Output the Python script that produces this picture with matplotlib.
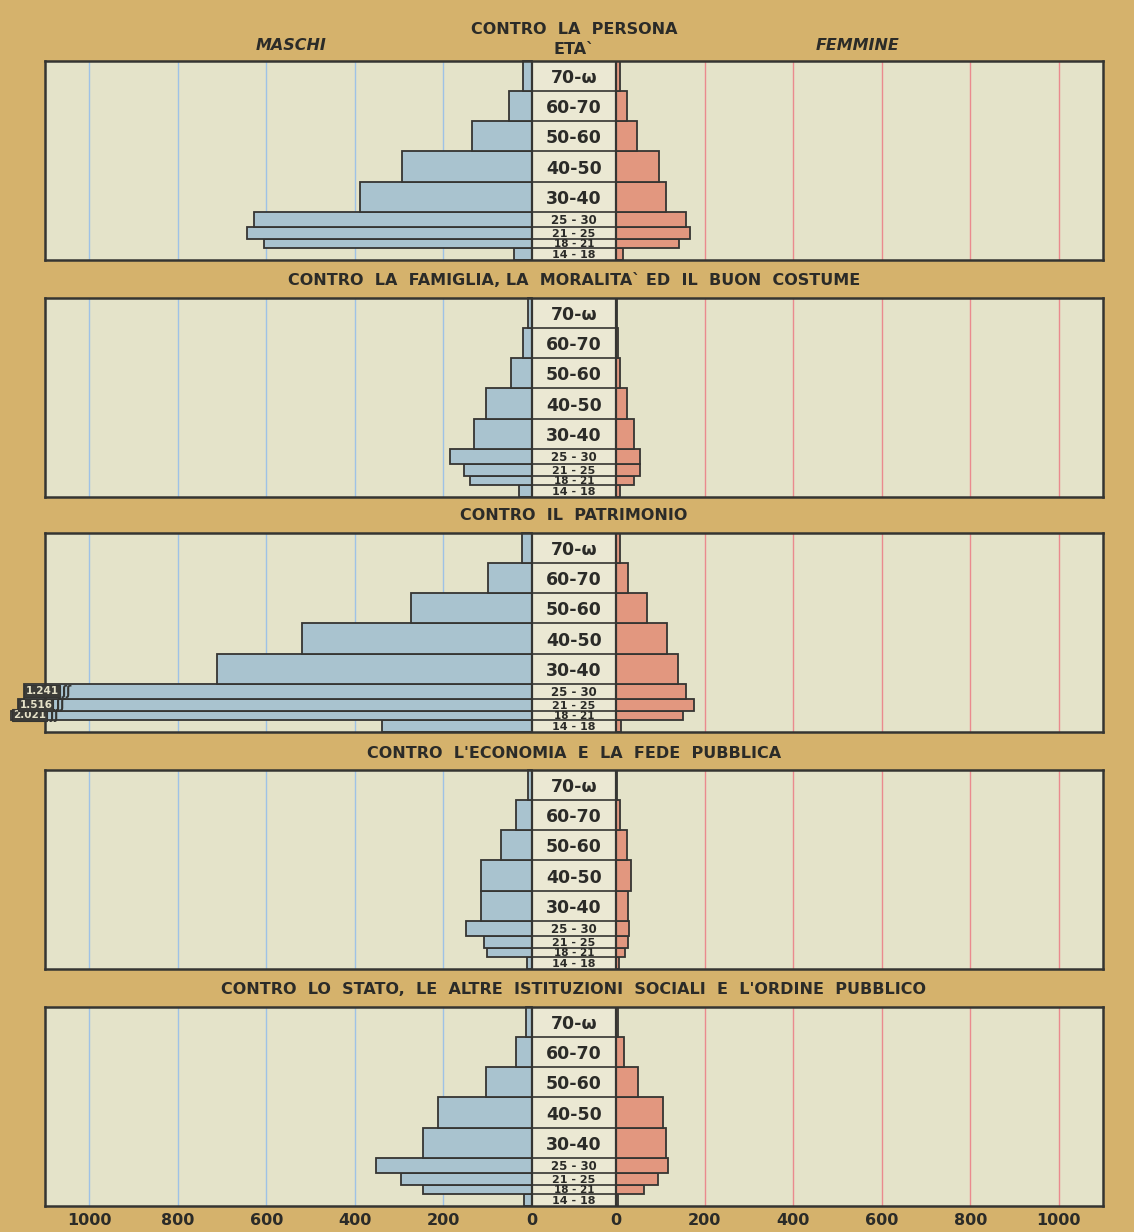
import matplotlib
matplotlib.use("Agg")
import matplotlib.pyplot as plt

# age classes, youngest first (70-ω drawn as a 10-year class)
AGE_EDGES = [14, 18, 21, 25, 30, 40, 50, 60, 70, 80]
AGE_LABELS = ["14-18", "18-21", "21-25", "25-30", "30-40",
              "40-50", "50-60", "60-70", "70-ω"]

TITLES = [
    "CONTRO  LA  PERSONA",
    "CONTRO  LA  FAMIGLIA, LA  MORALITA` ED  IL  BUON  COSTUME",
    "CONTRO  IL  PATRIMONIO",
    "CONTRO  L'ECONOMIA  E  LA  FEDE  PUBBLICA",
    "CONTRO  LO  STATO,  LE  ALTRE  ISTITUZIONI  SOCIALI  E  L'ORDINE  PUBBLICO",
]

MALE_PERSONA = [41, 606, 643, 628, 388, 293, 135, 52, 20]
FEMALE_PERSONA = [16, 143, 167, 157, 113, 97, 48, 24, 9]
MALE_FAMIGLIA = [30, 139, 153, 185, 132, 104, 47, 20, 8]
FEMALE_FAMIGLIA = [10, 41, 53, 55, 41, 24, 9, 5, 2]
MALE_PATRIMONIO = [339, 2021, 1516, 1241, 711, 520, 273, 99, 23]
FEMALE_PATRIMONIO = [12, 152, 175, 159, 140, 115, 70, 27, 10]
MALE_ECONOMIA = [11, 102, 108, 149, 115, 115, 70, 36, 8]
FEMALE_ECONOMIA = [7, 20, 26, 30, 28, 34, 24, 9, 2]
MALE_STATO = [17, 246, 295, 352, 246, 212, 103, 37, 13]
FEMALE_STATO = [4, 63, 94, 117, 113, 105, 49, 17, 4]

MALES = [MALE_PERSONA, MALE_FAMIGLIA, MALE_PATRIMONIO, MALE_ECONOMIA, MALE_STATO]
FEMALES = [FEMALE_PERSONA, FEMALE_FAMIGLIA, FEMALE_PATRIMONIO,
           FEMALE_ECONOMIA, FEMALE_STATO]

TICKS = [0, 200, 400, 600, 800, 1000]

BG = "#d5b26c"
PANEL = "#e4e3c9"
COLUMN = "#ebe8d3"
MALE_C = "#a9c3cf"
FEMALE_C = "#e2977f"
EDGE = "#353532"
BLUE = "#9ec2e6"
RED = "#ea8a8e"
INK = "#2b2b28"

GAP = 95       # half width of the age column, in count units
XMAX = 1100    # longest bar that fits inside the frame
BREAK = 1148   # drawn length of a bar that does not fit

W, H = 1134, 1232
TOPS = [61, 298, 533, 770, 1007]
PH = 199
LEFT, PW = 45, 1058

# label size by class width in years
LABEL_SIZE = {3: 7.5, 4: 8.0, 5: 8.5}

plt.rcParams["font.family"] = ["DejaVu Sans"]
fig = plt.figure(figsize=(W / 100, H / 100), dpi=100)
fig.patch.set_facecolor(BG)

bottoms = AGE_EDGES[:-1]
heights = [b - a for a, b in zip(AGE_EDGES[:-1], AGE_EDGES[1:])]

for i, (title, males, females) in enumerate(zip(TITLES, MALES, FEMALES)):
    ax = fig.add_axes([LEFT / W, 1 - (TOPS[i] + PH) / H, PW / W, PH / H])
    ax.set_facecolor(PANEL)
    ax.set_xlim(-GAP - XMAX, GAP + XMAX)
    ax.set_ylim(AGE_EDGES[0], AGE_EDGES[-1])

    ax.axvspan(-GAP, GAP, color=COLUMN, zorder=0)
    for v in TICKS[1:]:
        ax.axvline(-GAP - v, color=BLUE, lw=1.0, zorder=0.5)
        ax.axvline(GAP + v, color=RED, lw=1.0, zorder=0.5)

    # bars that run off the frame are cut and staggered outward
    shown = list(males)
    broken = [k for k, v in enumerate(males) if v > XMAX]
    for n, k in enumerate(reversed(broken)):
        shown[k] = BREAK + 14 * n
    ax.barh(bottoms, [-v for v in shown], left=-GAP, height=heights,
            align="edge", color=MALE_C, edgecolor=EDGE, lw=1.3,
            zorder=3, clip_on=False)
    ax.barh(bottoms, females, left=GAP, height=heights, align="edge",
            color=FEMALE_C, edgecolor=EDGE, lw=1.3, zorder=3)

    for k in broken:
        y = bottoms[k] + heights[k] / 2
        x = -GAP - shown[k]
        txt = f"{males[k] // 1000}.{males[k] % 1000:03d}"
        ax.text(x + 4, y, txt, ha="left", va="center", fontsize=7.5,
                fontweight="bold", color="#e6e2c8", zorder=5, clip_on=False,
                bbox=dict(boxstyle="square,pad=0.1", fc="#3c3c38",
                          ec=EDGE, lw=0.8))
        ax.text(x + 86, y, "ʃʃ", ha="left", va="center", fontsize=9,
                fontweight="bold", color=EDGE, zorder=5, clip_on=False)

    ax.hlines(AGE_EDGES[1:-1], -GAP, GAP, color=EDGE, lw=1.2, zorder=4)
    ax.axvline(-GAP, color=EDGE, lw=1.6, zorder=4)
    ax.axvline(GAP, color=EDGE, lw=1.6, zorder=4)

    for lo, hi, lab in zip(AGE_EDGES[:-1], AGE_EDGES[1:], AGE_LABELS):
        big = hi - lo >= 10
        ax.text(0, (lo + hi) / 2, lab if big else lab.replace("-", " - "),
                ha="center", va="center_baseline",
                fontsize=12.5 if big else LABEL_SIZE[hi - lo],
                fontweight="bold", color=INK, zorder=5)

    for s in ax.spines.values():
        s.set_color(EDGE)
        s.set_linewidth(1.8)
        s.set_zorder(4.5)

    ax.set_yticks([])
    if i == len(TITLES) - 1:
        ax.set_xticks([-GAP - v for v in TICKS[::-1]] + [GAP + v for v in TICKS])
        ax.set_xticklabels([str(v) for v in TICKS[::-1]] + [str(v) for v in TICKS])
        ax.tick_params(axis="x", length=0, pad=5, labelsize=11.5, labelcolor=INK)
        for t in ax.get_xticklabels():
            t.set_fontweight("bold")
    else:
        ax.set_xticks([])

    if i == 0:
        ax.annotate(title, xy=(0, 1), xycoords=("data", "axes fraction"),
                    xytext=(0, 31), textcoords="offset pixels", ha="center",
                    va="center", fontsize=11.5, fontweight="bold", color=INK)
        ax.annotate("ETA`", xy=(0, 1), xycoords=("data", "axes fraction"),
                    xytext=(0, 12), textcoords="offset pixels", ha="center",
                    va="center", fontsize=11.5, fontweight="bold", color=INK)
        for x, lab in [(-GAP - 545, "MASCHI"), (GAP + 545, "FEMMINE")]:
            ax.annotate(lab, xy=(x, 1), xycoords=("data", "axes fraction"),
                        xytext=(0, 16), textcoords="offset pixels", ha="center",
                        va="center", fontsize=11.5, fontweight="bold",
                        style="italic", color=INK)
    else:
        ax.annotate(title, xy=(0, 1), xycoords=("data", "axes fraction"),
                    xytext=(0, 17), textcoords="offset pixels", ha="center",
                    va="center", fontsize=11.5, fontweight="bold", color=INK)

fig.savefig("out.png", dpi=100, facecolor=BG)
